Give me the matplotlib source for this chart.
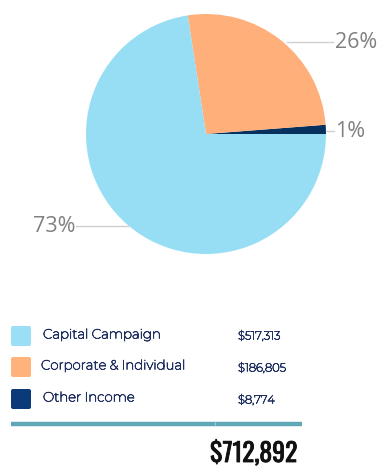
import matplotlib
matplotlib.use("Agg")
import matplotlib.pyplot as plt
from matplotlib.patches import FancyBboxPatch
import matplotlib.patheffects as pe

categories = ["Capital Campaign", "Corporate & Individual", "Other Income"]
values = [517313, 186805, 8774]
value_labels = ["$517,313", "$186,805", "$8,774"]
total_label = "$712,892"
colors = ["#97DEF5", "#FFB07A", "#06305E"]
legend_colors = ["#9ADFF5", "#FFB27A", "#0B3A7A"]

W, H = 392, 474
fig = plt.figure(figsize=(W / 100, H / 100), dpi=100)
ax = fig.add_axes([0, 0, 1, 1])

def Y(py):
    return H - py

order = [2, 1, 0]
cx, cy, r = 206, Y(134), 120
ax.pie([values[i] for i in order], colors=[colors[i] for i in order],
       startangle=0, counterclock=True, center=(cx, cy), radius=r,
       wedgeprops=dict(linewidth=0), frame=True)
ax.set_xlim(0, W)
ax.set_ylim(0, H)
ax.set_aspect("equal")
ax.axis("off")

total = sum(values)
pcts = [round(v / total * 100) for v in values]
gray = "#808080"
line_c = "#D0D0D0"
ax.plot([287, 333], [Y(42), Y(42)], color=line_c, lw=1)
ax.text(335, Y(42), f"{pcts[1]}%", color=gray, fontsize=15.5, family="Open Sans",
        va="center", ha="left")
ax.plot([326, 334], [Y(131), Y(131)], color=line_c, lw=1)
ax.text(335, Y(131), f"{pcts[2]}%", color=gray, fontsize=15.5, family="Open Sans",
        va="center", ha="left")
ax.plot([76, 128], [Y(226), Y(226)], color=line_c, lw=1)
ax.text(76, Y(226), f"{pcts[0]}%", color=gray, fontsize=15.5, family="Open Sans",
        va="center", ha="right")

navy = "#1F2F5F"
thick_lab = [pe.withStroke(linewidth=0.5, foreground=navy)]
thick_val = [pe.withStroke(linewidth=0.5, foreground=navy)]
sq_y = [336, 367, 399]
lab_y = [335, 366, 398]
val_y = [336, 368, 400]
for i in range(3):
    ax.add_patch(FancyBboxPatch((11, Y(sq_y[i]) - 10), 20, 20,
                                boxstyle="round,pad=0,rounding_size=2",
                                fc=legend_colors[i], ec="none"))
    ax.text(43 if i != 1 else 41, Y(lab_y[i]), categories[i], color=navy, fontsize=9.6,
            family="Montserrat", va="center", ha="left", path_effects=thick_lab)
    ax.text(238, Y(val_y[i]), value_labels[i], color=navy, fontsize=8.3,
            family="Montserrat", va="center", ha="left", path_effects=thick_val)

ax.plot([11, 302], [Y(423.5), Y(423.5)], color="#5FA8B8", lw=3.2, solid_capstyle="butt")
ax.plot([215.5, 215.5], [Y(425), Y(422)], color="#A9D0DA", lw=0.6)

ax.text(297, Y(462), total_label, color="#111111", fontsize=18.5,
        family="Oswald", fontweight="medium", va="baseline", ha="right",
        path_effects=[pe.withStroke(linewidth=0.6, foreground="#111111")])

fig.savefig("out.png", dpi=100)
